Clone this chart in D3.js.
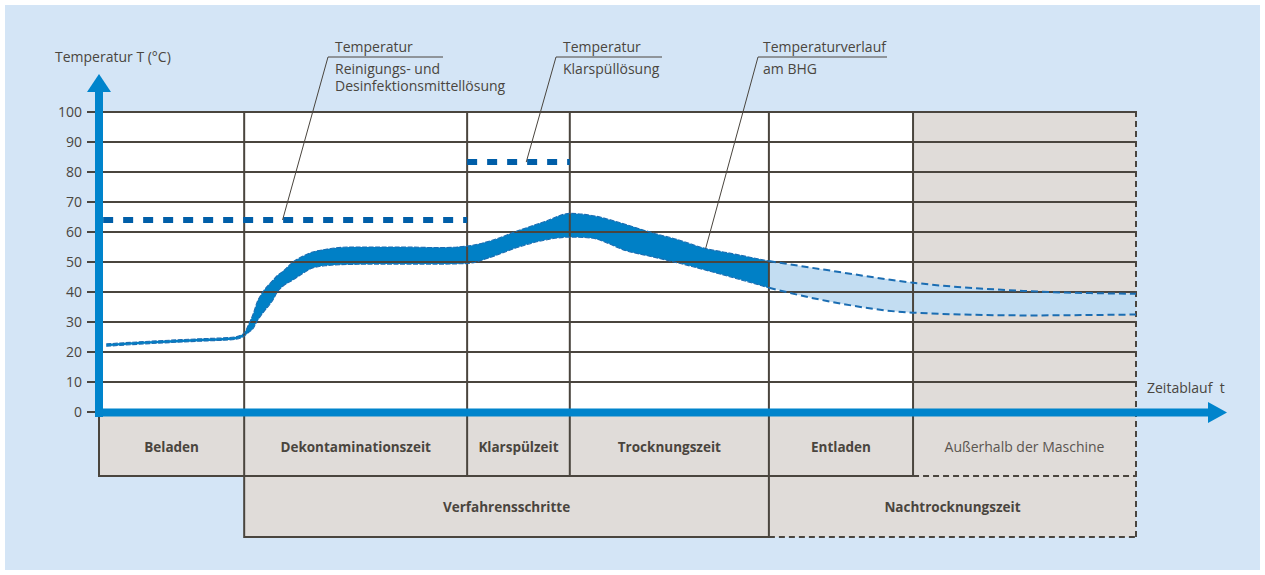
<!DOCTYPE html>
<html>
<head>
<meta charset="utf-8">
<script src="https://cdn.jsdelivr.net/npm/d3@7"></script>
<style>
  body { margin: 0; background: #ffffff; }
  text { font-family: "Open Sans", "DejaVu Sans", sans-serif; fill: #4a4640; }
</style>
</head>
<body>
<div id="chart"></div>
<script>
// temperature axis ticks
var tempTicks = [0, 10, 20, 30, 40, 50, 60, 70, 80, 90, 100];

// process phases (time units 0..100), first row of the table
var phaseNames = ["Beladen", "Dekontaminationszeit", "Klarspülzeit", "Trocknungszeit", "Entladen", "Außerhalb der Maschine"];
var phaseStart = [0, 14.0, 35.5, 45.4, 64.6, 78.5];
var phaseEnd   = [14.0, 35.5, 45.4, 64.6, 78.5, 100];

// second row of the table
var groupNames = ["Verfahrensschritte", "Nachtrocknungszeit"];
var groupStart = [14.0, 64.6];
var groupEnd   = [64.6, 100];

// temperature of the BHG (band: lower / upper edge)
var bhgTime = [0.7, 4.9, 9.7, 13.1, 14.0, 14.4, 14.9, 15.2, 15.8, 16.8, 17.2, 17.7, 18.7, 19.7, 20.6, 22.0, 24.2, 29.0, 32.9, 35.5,
               37.7, 40.3, 43.0, 45.4, 47.4, 50.9, 53.4, 55.7, 58.6, 60.6, 64.6, 70.2, 78.5, 89.5, 100];
var bhgLow  = [21.9, 22.8, 23.6, 24.2, 25.3, 26.5, 28.0, 30.0, 33.0, 37.5, 40.0, 41.8, 44.0, 46.3, 48.0, 48.8, 49.2, 49.3, 49.3, 49.5,
               51.5, 54.8, 57.3, 58.3, 58.0, 53.7, 51.7, 49.8, 47.2, 45.3, 41.4, 37.0, 33.1, 32.2, 32.5];
var bhgHigh = [22.7, 23.6, 24.4, 25.0, 26.3, 29.0, 33.0, 36.2, 40.0, 44.0, 45.5, 46.8, 50.0, 52.0, 53.3, 54.3, 55.0, 55.0, 54.8, 55.3,
               57.0, 60.3, 63.5, 66.2, 65.6, 62.4, 59.7, 57.6, 54.4, 53.1, 50.3, 47.3, 43.1, 40.3, 39.4];
var machineEnd = 64.6; // after this the part is outside / Nachtrocknung (light band)

// set temperatures of the liquids
var setNames = ["Reinigungs", "Klarspül"];
var setStart = [0.4, 35.5];
var setEnd   = [35.5, 45.4];
var setValue = [64, 83.3];

// annotation labels
var noteLines  = [["Temperatur", "Reinigungs- und", "Desinfektionsmittellösung"],
                  ["Temperatur", "Klarspüllösung"],
                  ["Temperaturverlauf", "am BHG"]];
var noteTime   = [17.7, 41.2, 58.5];
var noteTemp   = [64, 83.3, 54.5];

var width = 1265, height = 575;
var gridColor = "#4a453e", axisBlue = "#0084cc", bandBlue = "#0080c6",
    edgeBlue = "#1b6db2", setBlue = "#005ea8", lightBand = "#c3ddf2", grayFill = "#e0dcd9";

var svg = d3.select("#chart")
  .append("svg")
    .attr("width", width)
    .attr("height", height);

var x = d3.scaleLinear().domain([0, 100]).range([99, 1136]);
var y = d3.scaleLinear().domain([0, 100]).range([412, 112]);

var row1Bottom = 476, row2Bottom = 537;

// background
svg.append("rect")
  .attr("x", 5).attr("y", 5)
  .attr("width", 1255).attr("height", 565)
  .attr("fill", "#d4e5f6");

// plot area: white for the machine, gray outside
svg.append("rect")
  .attr("x", x(0)).attr("y", y(100))
  .attr("width", x(phaseStart[5]) - x(0)).attr("height", y(0) - y(100))
  .attr("fill", "#ffffff");
svg.append("rect")
  .attr("x", x(phaseStart[5])).attr("y", y(100))
  .attr("width", x(100) - x(phaseStart[5])).attr("height", y(0) - y(100))
  .attr("fill", grayFill);

// table cells
svg.append("g")
  .selectAll("rect")
  .data(phaseNames)
  .enter()
  .append("rect")
    .attr("x", (d, i) => x(phaseStart[i]))
    .attr("y", y(0))
    .attr("width", (d, i) => x(phaseEnd[i]) - x(phaseStart[i]))
    .attr("height", row1Bottom - y(0))
    .attr("fill", grayFill);
svg.append("g")
  .selectAll("rect")
  .data(groupNames)
  .enter()
  .append("rect")
    .attr("x", (d, i) => x(groupStart[i]))
    .attr("y", row1Bottom)
    .attr("width", (d, i) => x(groupEnd[i]) - x(groupStart[i]))
    .attr("height", row2Bottom - row1Bottom)
    .attr("fill", grayFill);

// BHG band
var bhg = bhgTime.map((t, i) => ({t: t, lo: bhgLow[i], hi: bhgHigh[i]}));
var inside = bhg.filter(d => d.t <= machineEnd);
var outside = bhg.filter(d => d.t >= machineEnd);

var area = d3.area()
  .x(d => x(d.t))
  .y0(d => y(d.lo))
  .y1(d => y(d.hi))
  .curve(d3.curveMonotoneX);
var lineHi = d3.line().x(d => x(d.t)).y(d => y(d.hi)).curve(d3.curveMonotoneX);
var lineLo = d3.line().x(d => x(d.t)).y(d => y(d.lo)).curve(d3.curveMonotoneX);

svg.append("path")
  .datum(outside)
  .attr("d", area)
  .attr("fill", lightBand);
svg.append("path")
  .datum(inside)
  .attr("d", area)
  .attr("fill", bandBlue);

// horizontal grid lines
svg.append("g")
  .selectAll("line")
  .data(tempTicks.filter(d => d > 0))
  .enter()
  .append("line")
    .attr("x1", x(0))
    .attr("x2", x(100))
    .attr("y1", d => y(d))
    .attr("y2", d => y(d))
    .attr("stroke", gridColor)
    .attr("stroke-width", 2);

// vertical phase lines
var bounds = phaseStart.slice(1);
svg.append("g")
  .selectAll("line")
  .data(bounds)
  .enter()
  .append("line")
    .attr("x1", d => x(d))
    .attr("x2", d => x(d))
    .attr("y1", y(100) - 1)
    .attr("y2", d => groupStart.indexOf(d) >= 0 ? row2Bottom + 1 : row1Bottom)
    .attr("stroke", gridColor)
    .attr("stroke-width", 2);

// table borders
svg.append("line")
  .attr("x1", x(0)).attr("x2", x(0))
  .attr("y1", y(0)).attr("y2", row1Bottom + 1)
  .attr("stroke", gridColor).attr("stroke-width", 2);
svg.append("line")
  .attr("x1", x(0)).attr("x2", x(phaseEnd[4]))
  .attr("y1", row1Bottom).attr("y2", row1Bottom)
  .attr("stroke", gridColor).attr("stroke-width", 2);
svg.append("line")
  .attr("x1", x(phaseStart[5])).attr("x2", x(100))
  .attr("y1", row1Bottom).attr("y2", row1Bottom)
  .attr("stroke", gridColor).attr("stroke-width", 2)
  .attr("stroke-dasharray", "6,4");
svg.append("line")
  .attr("x1", x(groupStart[0])).attr("x2", x(groupEnd[0]))
  .attr("y1", row2Bottom).attr("y2", row2Bottom)
  .attr("stroke", gridColor).attr("stroke-width", 2);
svg.append("line")
  .attr("x1", x(groupStart[1])).attr("x2", x(100))
  .attr("y1", row2Bottom).attr("y2", row2Bottom)
  .attr("stroke", gridColor).attr("stroke-width", 2)
  .attr("stroke-dasharray", "6,4");
svg.append("line")
  .attr("x1", x(100)).attr("x2", x(100))
  .attr("y1", y(100) - 1).attr("y2", row2Bottom)
  .attr("stroke", gridColor).attr("stroke-width", 2)
  .attr("stroke-dasharray", "6,4");

// dashed edges of the band
svg.append("path").datum(inside).attr("d", lineHi)
  .attr("fill", "none").attr("stroke", edgeBlue).attr("stroke-width", 1.1).attr("stroke-dasharray", "5,1.5");
svg.append("path").datum(inside).attr("d", lineLo)
  .attr("fill", "none").attr("stroke", edgeBlue).attr("stroke-width", 1.1).attr("stroke-dasharray", "5,1.5");
svg.append("path").datum(outside).attr("d", lineHi)
  .attr("fill", "none").attr("stroke", edgeBlue).attr("stroke-width", 2).attr("stroke-dasharray", "7,4");
svg.append("path").datum(outside).attr("d", lineLo)
  .attr("fill", "none").attr("stroke", edgeBlue).attr("stroke-width", 2).attr("stroke-dasharray", "7,4");

// set temperature lines (thick dotted)
svg.append("g")
  .selectAll("line")
  .data(setNames)
  .enter()
  .append("line")
    .attr("x1", (d, i) => x(setStart[i]))
    .attr("x2", (d, i) => x(setEnd[i]))
    .attr("y1", (d, i) => y(setValue[i]))
    .attr("y2", (d, i) => y(setValue[i]))
    .attr("stroke", setBlue)
    .attr("stroke-width", 6)
    .attr("stroke-dasharray", "10,10");

// tick marks and labels
svg.append("g")
  .selectAll("line")
  .data(tempTicks)
  .enter()
  .append("line")
    .attr("x1", 87).attr("x2", 97)
    .attr("y1", d => y(d)).attr("y2", d => y(d))
    .attr("stroke", gridColor).attr("stroke-width", 2);
svg.append("g")
  .selectAll("text")
  .data(tempTicks)
  .enter()
  .append("text")
    .attr("x", 82)
    .attr("y", d => y(d))
    .attr("dy", "0.36em")
    .attr("text-anchor", "end")
    .attr("font-size", 14)
    .text(d => d);

// axes (blue arrows)
svg.append("line")
  .attr("x1", x(0)).attr("x2", x(0))
  .attr("y1", y(0) + 5).attr("y2", 90)
  .attr("stroke", axisBlue).attr("stroke-width", 8);
svg.append("path")
  .attr("d", "M" + (x(0) - 12) + ",92L" + x(0) + ",74L" + (x(0) + 12) + ",92Z")
  .attr("fill", axisBlue);
svg.append("line")
  .attr("x1", x(0) - 4).attr("x2", 1210)
  .attr("y1", y(0) + 0.5).attr("y2", y(0) + 0.5)
  .attr("stroke", axisBlue).attr("stroke-width", 8);
svg.append("path")
  .attr("d", "M1208," + (y(0) - 10) + "L1227," + (y(0) + 0.5) + "L1208," + (y(0) + 11) + "Z")
  .attr("fill", axisBlue);

// axis titles
svg.append("text")
  .attr("x", 55).attr("y", 62)
  .attr("font-size", 14)
  .text("Temperatur T (°C)");
svg.append("text")
  .attr("x", 1147).attr("y", 393)
  .attr("font-size", 14)
  .style("white-space", "pre")
  .text("Zeitablauf  t");

// table labels
svg.append("g")
  .selectAll("text")
  .data(phaseNames)
  .enter()
  .append("text")
    .attr("x", (d, i) => (x(phaseStart[i]) + x(phaseEnd[i])) / 2)
    .attr("y", 452)
    .attr("text-anchor", "middle")
    .attr("font-size", (d, i) => i == 5 ? 14 : 13.5)
    .attr("font-weight", (d, i) => i == 5 ? 400 : 700)
    .style("fill", (d, i) => i == 5 ? "#5a5550" : "#4a453e")
    .text(d => d);
svg.append("g")
  .selectAll("text")
  .data(groupNames)
  .enter()
  .append("text")
    .attr("x", (d, i) => (x(groupStart[i]) + x(groupEnd[i])) / 2)
    .attr("y", 512)
    .attr("text-anchor", "middle")
    .attr("font-size", 13.5)
    .attr("font-weight", 700)
    .style("fill", "#4a453e")
    .text(d => d);

// annotations with leader lines
var noteX = [335, 563, 763];
var lineStart = [328, 556, 758];
var lineEnd = [443, 662, 887];
noteLines.forEach(function(lines, k) {
  var g = svg.append("g");
  g.append("line")
    .attr("x1", lineStart[k]).attr("x2", lineEnd[k])
    .attr("y1", 57).attr("y2", 57)
    .attr("stroke", gridColor).attr("stroke-width", 1);
  g.append("line")
    .attr("x1", lineStart[k]).attr("y1", 57)
    .attr("x2", x(noteTime[k])).attr("y2", y(noteTemp[k]))
    .attr("stroke", gridColor).attr("stroke-width", 1);
  g.selectAll("text")
    .data(lines)
    .enter()
    .append("text")
      .attr("x", noteX[k])
      .attr("y", (d, i) => i == 0 ? 52 : 57 + 17 * i)
      .attr("font-size", 14)
      .text(d => d);
});
</script>
</body>
</html>
